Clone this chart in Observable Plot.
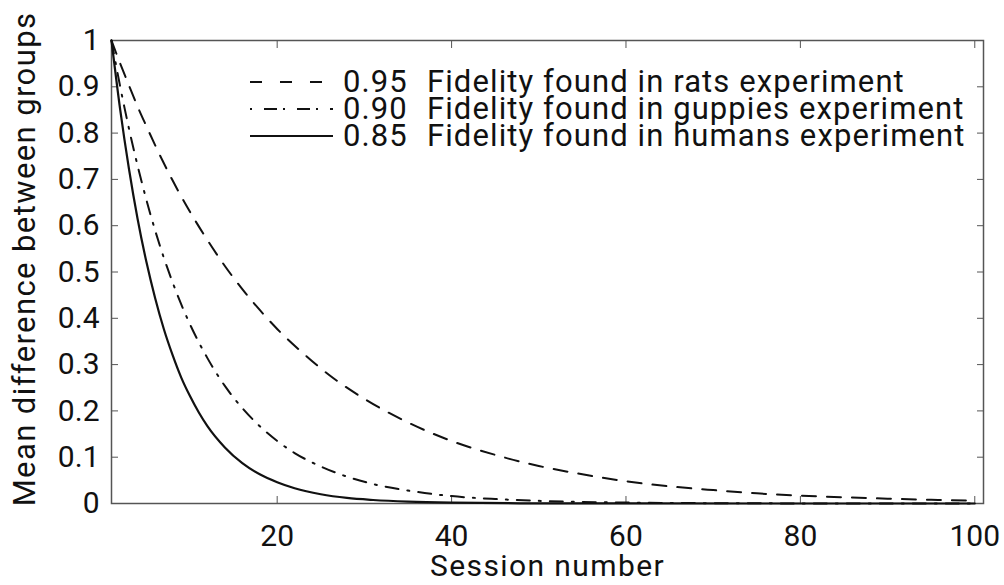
<!DOCTYPE html>
<html>
<head>
<meta charset="utf-8">
<script src="https://cdn.jsdelivr.net/npm/d3@7"></script>
<script src="https://cdn.jsdelivr.net/npm/@observablehq/plot@0.6"></script>
<style>
  html, body { margin: 0; padding: 0; background: #fff; }
  #wrap { position: relative; width: 1004px; height: 585px; font-family: Roboto, "Liberation Sans", sans-serif; }
  #legend { position: absolute; left: 250px; top: 68px; font-size: 31px; letter-spacing: 1.1px; color: #111; }
  .row { display: flex; align-items: center; height: 27px; line-height: 27px; white-space: nowrap; }
  .row svg { width: 83px; height: 27px; flex: none; }
  .val { width: 84px; margin-left: 10px; flex: none; }
  .desc { margin-left: 0px; }
</style>
</head>
<body>
<div id="wrap"></div>
<script>
// Session numbers and mean differences
const sessionsRats = [1, 2, 3, 4, 5, 6, 8, 10, 12, 14, 16, 18, 20, 23, 26, 30, 35, 40, 45, 50, 55, 60, 65, 70, 75, 80, 85, 90, 95, 100];
const valuesRats   = [1, 0.95, 0.903, 0.857, 0.815, 0.774, 0.698, 0.630, 0.569, 0.513, 0.463, 0.418, 0.377, 0.324, 0.277, 0.226, 0.175, 0.135, 0.105, 0.081, 0.063, 0.048, 0.037, 0.029, 0.022, 0.017, 0.0134, 0.0104, 0.008, 0.0062];

const sessionsGuppies = [1, 2, 3, 4, 5, 6, 7, 8, 9, 10, 12, 14, 16, 18, 20, 22, 25, 28, 31, 35, 40, 45, 50, 55, 60, 70, 80, 100];
const valuesGuppies   = [1, 0.90, 0.81, 0.729, 0.656, 0.59, 0.531, 0.478, 0.43, 0.387, 0.314, 0.254, 0.206, 0.167, 0.135, 0.109, 0.08, 0.058, 0.042, 0.028, 0.016, 0.0097, 0.0057, 0.0034, 0.002, 0.0007, 0.0002, 0.00003];

const sessionsHumans = [1, 2, 3, 4, 5, 6, 7, 8, 9, 10, 11, 12, 14, 16, 18, 20, 22, 25, 28, 31, 35, 40, 50, 60, 100];
const valuesHumans   = [1, 0.85, 0.723, 0.614, 0.522, 0.444, 0.377, 0.321, 0.272, 0.232, 0.197, 0.167, 0.121, 0.087, 0.063, 0.046, 0.033, 0.020, 0.012, 0.0076, 0.004, 0.0018, 0.0003, 0.0001, 0];

const xTicks = [20, 40, 60, 80, 100];
const yTicks = [0, 0.1, 0.2, 0.3, 0.4, 0.5, 0.6, 0.7, 0.8, 0.9, 1];

const seriesNames = ["0.95", "0.90", "0.85"];
const seriesDescs = ["Fidelity found in rats experiment", "Fidelity found in guppies experiment", "Fidelity found in humans experiment"];
const dashes = ["14,11", "13,9,2,9", null];
const legendDashes = ["12,18", "2,12,13,6", null];

const toRows = (xs, ys) => xs.map((x, i) => ({x, y: ys[i]}));
const rats = toRows(sessionsRats, valuesRats);
const guppies = toRows(sessionsGuppies, valuesGuppies);
const humans = toRows(sessionsHumans, valuesHumans);

const yFmt = d => d === 0 ? "0" : d === 1 ? "1" : d.toFixed(1);
const axisColor = "#555";
const labelStyle = {fill: "#111", lineAnchor: "middle"};

const chart = Plot.plot({
  width: 1004,
  height: 585,
  marginLeft: 111,
  marginRight: 21,
  marginTop: 40,
  marginBottom: 82,
  style: {fontFamily: "Roboto, 'Liberation Sans', sans-serif", fontSize: "30px", color: "#111", background: "#fff"},
  x: {domain: [1, 101]},
  y: {domain: [0, 1]},
  marks: [
    Plot.frame({stroke: axisColor, strokeWidth: 1.5}),
    Plot.axisX(xTicks, {anchor: "bottom", tickSize: -7, tickPadding: 28, stroke: axisColor, fill: "#111", label: null}),
    Plot.axisX(xTicks, {anchor: "top", tickSize: -7, tickFormat: () => "", stroke: axisColor, label: null}),
    Plot.axisY(yTicks, {anchor: "left", tickSize: -7, tickPadding: 19, tickFormat: yFmt, stroke: axisColor, fill: "#111", label: null}),
    Plot.axisY(yTicks, {anchor: "right", tickSize: -7, tickFormat: () => "", stroke: axisColor, label: null}),
    Plot.line(rats, {x: "x", y: "y", stroke: "#111", strokeWidth: 2, strokeDasharray: dashes[0], curve: "monotone-x"}),
    Plot.line(guppies, {x: "x", y: "y", stroke: "#111", strokeWidth: 2, strokeDasharray: dashes[1], curve: "monotone-x"}),
    Plot.line(humans, {x: "x", y: "y", stroke: "#111", strokeWidth: 2.2, curve: "monotone-x"}),
    Plot.text(["Session number"], {...labelStyle, fontSize: 30, frameAnchor: "bottom", dy: 63, text: d => d}),
    Plot.text(["Mean difference between groups"], {...labelStyle, fontSize: 31, frameAnchor: "left", textAnchor: "middle", dx: -86, dy: -13, rotate: -90, text: d => d})
  ]
});

// widen the axis-title letters slightly, as in the reference typeface
d3.select(chart).selectAll("text").each(function() {
  const t = this.textContent;
  if (t === "Session number") d3.select(this).style("letter-spacing", "1.4px");
  if (t === "Mean difference between groups") d3.select(this).style("letter-spacing", "1.4px");
});

const wrap = document.getElementById("wrap");
wrap.appendChild(chart);

const legend = document.createElement("div");
legend.id = "legend";
seriesNames.forEach((name, i) => {
  const row = document.createElement("div");
  row.className = "row";
  const dash = legendDashes[i] ? `stroke-dasharray="${legendDashes[i]}"` : "";
  row.innerHTML = `<svg viewBox="0 0 83 27"><line x1="0" x2="83" y1="14" y2="14" stroke="#111" stroke-width="2" ${dash}></line></svg>` +
    `<span class="val">${name}</span><span class="desc">${seriesDescs[i]}</span>`;
  legend.appendChild(row);
});
wrap.appendChild(legend);
</script>
</body>
</html>
